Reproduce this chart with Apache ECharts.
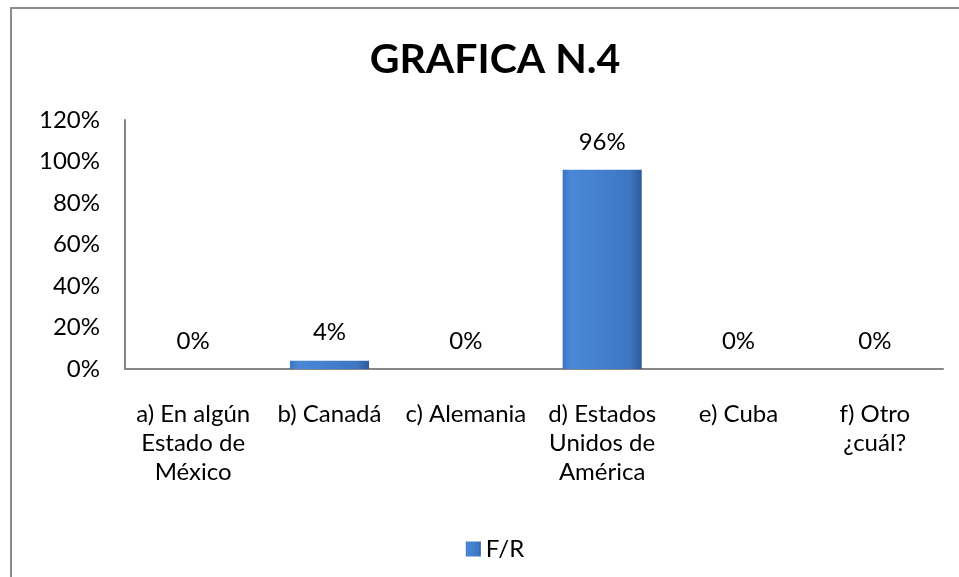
<!DOCTYPE html>
<html>
<head>
<meta charset="utf-8">
<script src="https://cdn.jsdelivr.net/npm/echarts@6/dist/echarts.min.js"></script>
<style>
  html, body { margin: 0; padding: 0; background: #fff; overflow: hidden; width: 959px; height: 577px; }
  #frame {
    position: absolute; left: 10px; top: 7px; width: 1000px; height: 700px;
    border-left: 2px solid #8c8c8c; border-top: 2px solid #8c8c8c;
  }
  #chart { position: absolute; left: 0; top: 0; width: 990px; height: 577px; }
</style>
</head>
<body>
<div id="frame"></div>
<div id="chart"></div>
<script>
const categories = [
  'a) En algún\nEstado de\nMéxico',
  'b) Canadá',
  'c) Alemania',
  'd) Estados\nUnidos de\nAmérica',
  'e) Cuba',
  'f) Otro\n¿cuál?'
]
const valuesFR = [0, 0.04, 0, 0.96, 0, 0]
const yTicks = [0, 0.2, 0.4, 0.6, 0.8, 1.0, 1.2]

const font = 'Lato, "Open Sans", sans-serif'
const pct = v => Math.round(v * 100) + '%'

const chart = echarts.init(document.getElementById('chart'))
chart.setOption({
  animation: false,
  textStyle: { fontFamily: font },
  title: {
    text: 'GRAFICA N.4',
    left: 'center',
    top: 34,
    textStyle: { fontFamily: font, fontSize: 41, fontWeight: 'bold', color: '#000' }
  },
  legend: {
    top: 532,
    left: 'center',
    itemWidth: 15,
    itemHeight: 15,
    itemGap: 8,
    icon: 'rect',
    textStyle: { fontSize: 24, color: '#000', fontFamily: font }
  },
  grid: { left: 125, right: 47, top: 120, bottom: 208 },
  xAxis: {
    type: 'category',
    data: categories,
    axisTick: { show: false },
    axisLine: { lineStyle: { color: '#868686', width: 2 } },
    axisLabel: {
      interval: 0,
      margin: 31,
      fontSize: 24,
      lineHeight: 29,
      color: '#000',
      fontFamily: font
    }
  },
  yAxis: {
    type: 'value',
    min: yTicks[0],
    max: yTicks[yTicks.length - 1],
    interval: 0.2,
    splitLine: { show: false },
    axisTick: { show: false },
    axisLine: { show: true, lineStyle: { color: '#868686', width: 2 } },
    axisLabel: {
      formatter: pct,
      fontSize: 24,
      margin: 25,
      color: '#000',
      fontFamily: font
    }
  },
  series: [{
    name: 'F/R',
    type: 'bar',
    data: valuesFR,
    barWidth: '58%',
    itemStyle: {
      color: new echarts.graphic.LinearGradient(0, 0, 1, 0, [
        { offset: 0, color: '#3b74c4' },
        { offset: 0.1, color: '#4a89d8' },
        { offset: 0.85, color: '#3d76c2' },
        { offset: 1, color: '#2b5a9c' }
      ]),
      borderWidth: 0
    },
    label: {
      show: true,
      position: 'top',
      distance: 16,
      formatter: p => pct(p.value),
      fontSize: 24,
      color: '#000',
      fontFamily: font
    }
  }]
})
</script>
</body>
</html>
